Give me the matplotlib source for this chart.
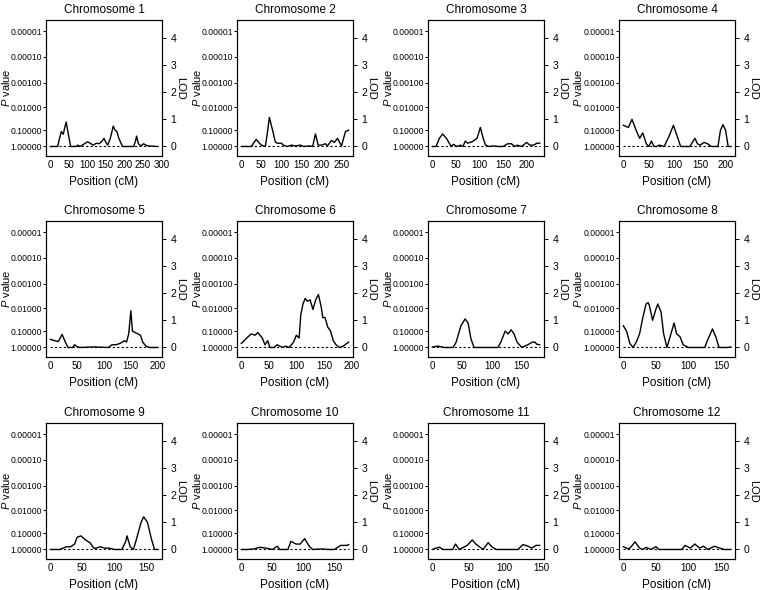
import matplotlib
matplotlib.use("Agg")
import matplotlib.pyplot as plt
from matplotlib.ticker import MultipleLocator

plt.rcParams["font.family"] = "Liberation Sans"
plt.rcParams["mathtext.fontset"] = "custom"
plt.rcParams["mathtext.it"] = "Liberation Sans:italic"
plt.rcParams["mathtext.rm"] = "Liberation Sans"

# P value ticks placed at their LOD equivalents (1 df chi-square)
P_TICK_LABELS = ["1.00000", "0.10000", "0.01000", "0.00100", "0.00010", "0.00001"]
P_TICK_LOD = [0.0, 0.59, 1.44, 2.35, 3.29, 4.23]
LOD_TICKS = [0, 1, 2, 3, 4]

CHR1_POS = [0, 20, 25, 30, 35, 40, 43, 48, 55, 70, 75, 80, 90, 100, 108, 115, 125, 132, 140, 145, 150, 155,
            162, 170, 175, 180, 185, 195, 225, 230, 233, 238, 245, 252, 258, 265, 290]
CHR1_LOD = [0, 0, 0.3, 0.55, 0.45, 0.75, 0.9, 0.5, 0, 0, 0.05, 0, 0.08, 0.17, 0.12, 0.05, 0.12, 0.1, 0.2, 0.3, 0.15, 0.05,
            0.3, 0.75, 0.6, 0.55, 0.3, 0, 0, 0.2, 0.38, 0.1, 0.02, 0.1, 0.05, 0.02, 0]

CHR2_POS = [0, 25, 37, 50, 60, 65, 70, 78, 85, 90, 100, 105, 115, 125, 135, 148, 155, 170, 178, 185, 192,
            200, 210, 215, 225, 232, 240, 250, 260, 268]
CHR2_LOD = [0, 0, 0.26, 0.05, 0, 0.5, 1.07, 0.6, 0.16, 0.12, 0.12, 0.05, 0, 0.05, 0.02, 0.05, 0, 0.02, 0, 0.46, 0.05,
            0.05, 0.1, 0.02, 0.22, 0.15, 0.3, 0.02, 0.55, 0.6]

CHR3_POS = [0, 8, 15, 22, 30, 40, 45, 52, 60, 65, 70, 75, 85, 95, 102, 108, 113, 120, 130, 140, 150, 160,
            168, 175, 180, 190, 200, 207, 215, 222, 228]
CHR3_LOD = [0, 0, 0.3, 0.46, 0.3, 0, 0.08, 0, 0.05, 0, 0.2, 0.12, 0.18, 0.3, 0.7, 0.3, 0.05, 0, 0.02, 0, 0, 0.1,
            0.1, 0, 0.05, 0, 0.15, 0.05, 0.05, 0.12, 0.12]

CHR4_POS = [0, 10, 17, 25, 32, 38, 45, 50, 55, 60, 65, 70, 80, 90, 98, 105, 112, 130, 140, 145, 150, 158,
            165, 172, 185, 190, 195, 200, 205, 210]
CHR4_LOD = [0.78, 0.7, 1.0, 0.6, 0.3, 0.5, 0.1, 0, 0.2, 0, 0, 0.05, 0, 0.4, 0.78, 0.4, 0, 0, 0.3, 0.1, 0.05, 0.15,
            0.1, 0, 0, 0.6, 0.8, 0.6, 0, 0]

CHR5_POS = [0, 8, 15, 22, 28, 33, 42, 45, 50, 55, 80, 108, 115, 122, 130, 138, 142, 146, 150, 153, 158,
            163, 168, 172, 178, 185, 200]
CHR5_LOD = [0.3, 0.25, 0.22, 0.48, 0.2, 0, 0, 0.1, 0.03, 0, 0.02, 0, 0.1, 0.1, 0.15, 0.25, 0.2, 0.5, 1.35, 0.6, 0.55,
            0.5, 0.45, 0.2, 0.05, 0, 0]

CHR6_POS = [0, 10, 18, 25, 30, 38, 43, 48, 52, 60, 65, 75, 80, 87, 95, 100, 105, 108, 112, 116, 120, 125,
            130, 135, 140, 145, 148, 152, 157, 162, 167, 172, 178, 185, 195]
CHR6_LOD = [0.15, 0.35, 0.5, 0.45, 0.55, 0.35, 0.1, 0.25, 0, 0, 0.1, 0, 0.05, 0, 0.2, 0.45, 0.35, 1.2, 1.6, 1.8, 1.7, 1.75,
            1.4, 1.75, 1.95, 1.5, 1.1, 1.1, 0.75, 0.6, 0.25, 0.1, 0, 0.05, 0.2]

CHR7_POS = [0, 10, 20, 35, 40, 48, 55, 60, 65, 70, 110, 115, 122, 127, 132, 137, 142, 150, 155, 160, 168,
            172, 175, 180]
CHR7_LOD = [0.02, 0.05, 0, 0, 0.2, 0.8, 1.05, 0.9, 0.3, 0, 0, 0.2, 0.6, 0.5, 0.65, 0.5, 0.2, 0, 0.05, 0.1, 0.2,
            0.2, 0.12, 0.1]

CHR8_POS = [0, 5, 10, 15, 20, 25, 30, 35, 38, 40, 45, 50, 53, 58, 62, 67, 72, 78, 82, 87, 92, 100, 125,
            130, 137, 142, 147, 160, 165]
CHR8_LOD = [0.8, 0.6, 0.15, 0, 0.2, 0.5, 1.1, 1.6, 1.65, 1.55, 1.0, 1.4, 1.6, 1.3, 0.5, 0, 0.4, 0.9, 0.5, 0.4, 0.1, 0, 0,
            0.3, 0.68, 0.4, 0, 0, 0.02]

CHR9_POS = [0, 15, 25, 32, 38, 42, 48, 55, 62, 68, 72, 78, 85, 92, 100, 112, 118, 120, 125, 130, 135, 142,
            146, 152, 158, 163, 168]
CHR9_LOD = [0, 0, 0.1, 0.1, 0.2, 0.45, 0.5, 0.35, 0.25, 0.05, 0.05, 0.1, 0.05, 0.05, 0, 0, 0.3, 0.5, 0.1, 0, 0.4, 1.0,
            1.2, 1.0, 0.4, 0, 0]

CHR10_POS = [0, 10, 20, 30, 40, 50, 58, 62, 75, 80, 88, 95, 102, 110, 115, 130, 140, 150, 160, 170, 173]
CHR10_LOD = [0, 0, 0.02, 0.08, 0.05, 0, 0.12, 0, 0, 0.3, 0.2, 0.2, 0.4, 0.1, 0, 0.02, 0, 0, 0.15, 0.15, 0.18]

CHR11_POS = [0, 5, 10, 15, 28, 32, 37, 48, 55, 60, 65, 70, 77, 82, 88, 100, 118, 125, 132, 137, 143, 148]
CHR11_LOD = [0, 0.05, 0.08, 0, 0, 0.2, 0, 0.15, 0.35, 0.2, 0.1, 0, 0.25, 0.1, 0, 0, 0, 0.18, 0.12, 0.05, 0.15, 0.15]

CHR12_POS = [0, 8, 12, 18, 25, 30, 35, 42, 50, 55, 80, 90, 95, 103, 110, 117, 123, 130, 140, 148, 155, 165]
CHR12_LOD = [0.1, 0.02, 0.1, 0.28, 0.05, 0, 0.08, 0, 0.1, 0, 0, 0, 0.15, 0.05, 0.2, 0.05, 0.12, 0, 0.12, 0.05, 0, 0]

CHROMOSOMES = [
    (CHR1_POS, CHR1_LOD), (CHR2_POS, CHR2_LOD), (CHR3_POS, CHR3_LOD), (CHR4_POS, CHR4_LOD),
    (CHR5_POS, CHR5_LOD), (CHR6_POS, CHR6_LOD), (CHR7_POS, CHR7_LOD), (CHR8_POS, CHR8_LOD),
    (CHR9_POS, CHR9_LOD), (CHR10_POS, CHR10_LOD), (CHR11_POS, CHR11_LOD), (CHR12_POS, CHR12_LOD),
]

W, H = 761, 590
COL_LEFT = [46, 237, 428, 619]
ROW_TOP = [20, 221, 423]
BOX_W, BOX_H = 116, 136

fig = plt.figure(figsize=(W / 100, H / 100), dpi=100, facecolor="white")

for i, (pos, lod) in enumerate(CHROMOSOMES):
    r, c = divmod(i, 4)
    left = COL_LEFT[c] / W
    bottom = 1 - (ROW_TOP[r] + BOX_H) / H
    ax = fig.add_axes((left, bottom, BOX_W / W, BOX_H / H))

    xmax = pos[-1]
    ax.plot(pos, lod, color="black", linewidth=1.0)
    ax.plot([0, xmax], [0, 0], color="black", linewidth=0.8, linestyle=(0, (2, 2)))

    ax.set_xlim(-0.04 * xmax, 1.04 * xmax)
    ax.set_ylim(-0.35, 4.65)
    ax.xaxis.set_major_locator(MultipleLocator(50))

    ax.set_yticks(P_TICK_LOD)
    ax.set_yticklabels(P_TICK_LABELS)
    ax.tick_params(axis="y", length=2, width=0.7, pad=1, labelsize=6.2)
    ax.tick_params(axis="x", length=0, pad=3, labelsize=7)

    ax.set_title(f"Chromosome {i + 1}", fontsize=8.5, pad=5)
    ax.set_xlabel("Position (cM)", fontsize=8.5, labelpad=4)
    ax.set_ylabel("$P$ value", fontsize=8, va="center")
    ax.yaxis.set_label_coords(-40.5 / BOX_W, 0.5)

    ax2 = ax.twinx()
    ax2.set_ylim(-0.35, 4.65)
    ax2.set_yticks(LOD_TICKS)
    ax2.tick_params(axis="y", length=3, width=0.7, pad=3, labelsize=7.5)
    ax2.set_ylabel("LOD", fontsize=8, rotation=270, va="center")
    ax2.yaxis.set_label_coords(1 + 18 / BOX_W, 0.5)

    for a in (ax, ax2):
        for spine in a.spines.values():
            spine.set_linewidth(0.8)

fig.savefig("out.png", dpi=100, facecolor="white")
